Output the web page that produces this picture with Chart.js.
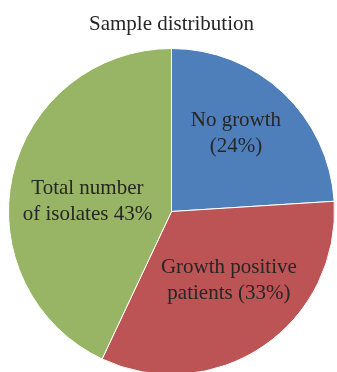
<!DOCTYPE html>
<html>
<head>
<meta charset="utf-8">
<script src="https://cdn.jsdelivr.net/npm/chart.js@4"></script>
<style>
	html, body { margin: 0; padding: 0; background: #fff; overflow: hidden; }
	.chartBox { width: 337px; height: 380px; }
</style>
</head>
<body>
<div class="chartBox"><canvas id="myChart" width="337" height="380"></canvas></div>
<script>
// sample groups, clockwise from the top
const categories = ['No growth', 'Growth positive patients', 'Total number of isolates'];
const percents = [24, 33, 43];
// label text per slice, {v} gets the percent
const labelLines = [
	['No growth', '({v}%)'],
	['Growth positive', 'patients ({v}%)'],
	['Total number', 'of isolates {v}%'],
];
const sliceColors = ['#4f7fba', '#bc5355', '#97b564'];

// where each label sits: fraction of radius, angle nudge in degrees
const labelPlace = [
	{ r: 0.62, da: -3.6 },
	{ r: 0.55, da: -5.6 },
	{ r: 0.52, da: -5.5 },
];

const FONT = "'Liberation Serif', 'Times New Roman', serif";

const sliceLabels = {
	id: 'sliceLabels',
	afterDatasetsDraw(chart) {
		const ctx = chart.ctx;
		const meta = chart.getDatasetMeta(0);
		ctx.save();
		ctx.font = '21px ' + FONT;
		ctx.fillStyle = '#262626';
		ctx.textAlign = 'center';
		ctx.textBaseline = 'middle';
		meta.data.forEach((arc, i) => {
			const p = labelPlace[i];
			const mid = (arc.startAngle + arc.endAngle) / 2 + (p.da * Math.PI) / 180;
			const x = arc.x + Math.cos(mid) * arc.outerRadius * p.r;
			const y = arc.y + Math.sin(mid) * arc.outerRadius * p.r;
			const lines = labelLines[i].map((t) => t.replace('{v}', percents[i]));
			const lh = 26;
			lines.forEach((t, k) => {
				ctx.fillText(t, x, y + (k - (lines.length - 1) / 2) * lh);
			});
		});
		ctx.restore();
	},
};

const config = {
	type: 'pie',
	data: {
		labels: categories,
		datasets: [
			{
				data: percents,
				backgroundColor: sliceColors,
				borderColor: '#ffffff',
				borderWidth: 1,
			},
		],
	},
	options: {
		responsive: false,
		animation: false,
		layout: {
			padding: { left: 8, right: 2, top: 0, bottom: 5 },
		},
		plugins: {
			legend: { display: false },
			tooltip: { enabled: false },
			title: {
				display: true,
				text: 'Sample distribution',
				color: '#262626',
				font: { family: FONT, size: 21, weight: 'normal', lineHeight: 1.2 },
				padding: { top: 12, bottom: 10.8 },
			},
		},
	},
	plugins: [sliceLabels],
};

const myChart = new Chart(document.getElementById('myChart'), config);
</script>
</body>
</html>
